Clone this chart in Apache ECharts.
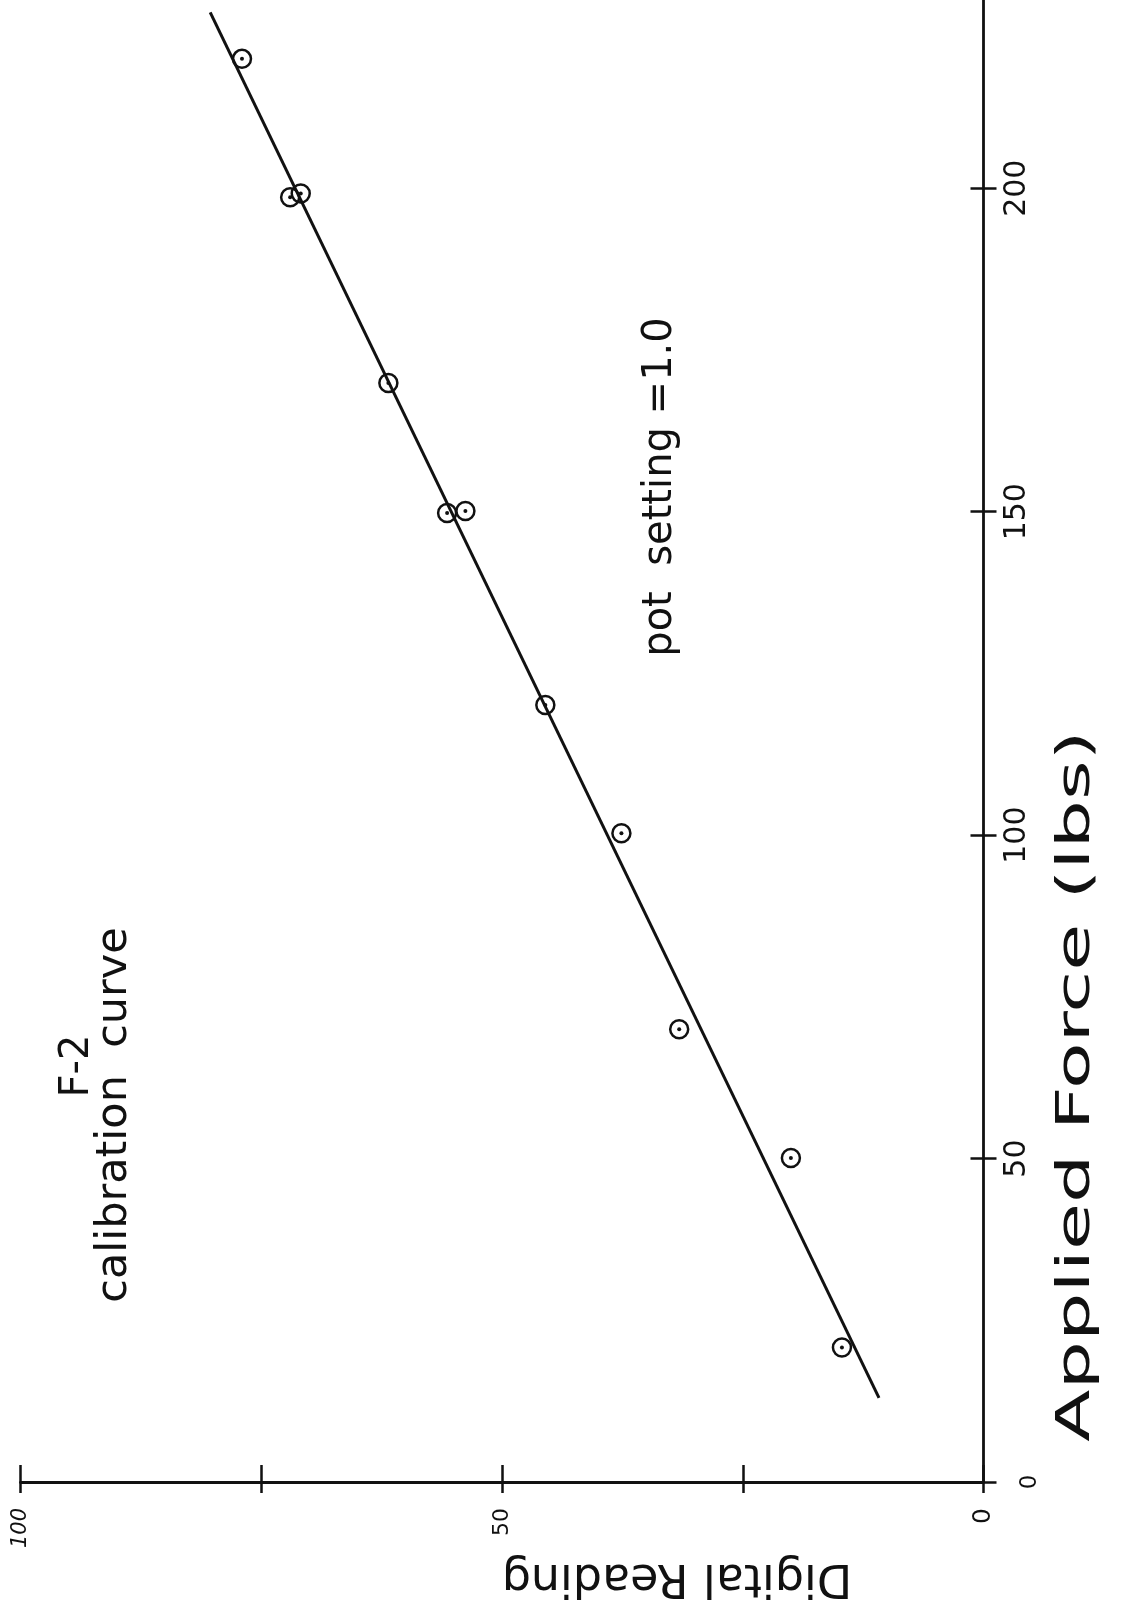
<!DOCTYPE html>
<html>
<head>
<meta charset="utf-8">
<title>F-2 calibration curve</title>
<script src="https://cdn.jsdelivr.net/npm/echarts@6/dist/echarts.min.js"></script>
<style>
  html, body { margin: 0; padding: 0; background: #ffffff; }
  #chart { width: 1127px; height: 1606px; }
</style>
</head>
<body>
<div id="chart"></div>
<script>
// Applied force (lbs) for each calibration point
const appliedForce = [20.8, 50.1, 70.0, 100.3, 120.1, 149.8, 150.1, 169.9, 198.6, 199.2, 220.0];
// Digital reading recorded at each load
const digitalReading = [14.7, 20.0, 31.6, 37.6, 45.5, 55.7, 53.8, 61.8, 72.0, 70.9, 77.0];
// End points of the fitted calibration line
const fitForce = [13.0, 227.2];
const fitReading = [10.85, 80.3];
// Tick positions and labelled ticks
const forceTicks = [0, 50, 100, 150, 200];
const readingTickLabels = [0, 50, 100];

const INK = '#111111';
const FONT = '"DejaVu Sans", "Liberation Sans", sans-serif';

const points = appliedForce.map((f, i) => [digitalReading[i], f]);
const fitLine = fitForce.map((f, i) => [fitReading[i], f]);

const chart = echarts.init(document.getElementById('chart'), null, { renderer: 'canvas' });

const readingAxisBase = {
  type: 'value',
  min: 0,
  max: 100,
  interval: 25,
  inverse: true,
  position: 'bottom',
  gridIndex: 0,
  splitLine: { show: false }
};
// force axis runs past 200 up to the top edge of the sheet
const forceAxisBase = {
  type: 'value',
  min: 0,
  max: 229.1,
  interval: 50,
  position: 'right',
  gridIndex: 0,
  splitLine: { show: false }
};

chart.setOption({
  animation: false,
  backgroundColor: '#ffffff',
  grid: { left: 20.5, right: 143.5, top: 0, bottom: 124, containLabel: false },
  xAxis: [
    Object.assign({}, readingAxisBase, {
      axisLine: { show: true, lineStyle: { color: INK, width: 2.8 } },
      axisTick: { show: true, inside: false, length: 11, lineStyle: { color: INK, width: 2.5 } },
      axisLabel: {
        show: true,
        rotate: 90,
        margin: 26,
        color: INK,
        fontFamily: FONT,
        formatter: function (v) {
          if (readingTickLabels.indexOf(v) < 0) return '';
          if (v === 0) return '{z|0}';
          if (v === 100) return '{h|100}';
          return '{f|' + v + '}';
        },
        rich: {
          z: { fontSize: 25, fontFamily: FONT, color: INK },
          f: { fontSize: 22, fontFamily: FONT, color: INK },
          h: { fontSize: 21, fontFamily: FONT, color: INK, fontStyle: 'italic' }
        }
      }
    }),
    Object.assign({}, readingAxisBase, {
      axisLine: { show: false },
      axisTick: { show: true, inside: true, length: 17, lineStyle: { color: INK, width: 2.5 } },
      axisLabel: { show: false }
    })
  ],
  yAxis: [
    Object.assign({}, forceAxisBase, {
      axisLine: { show: true, lineStyle: { color: INK, width: 2.8 } },
      axisTick: { show: true, inside: false, length: 13, customValues: forceTicks, lineStyle: { color: INK, width: 2.5 } },
      axisLabel: {
        show: true,
        rotate: 90,
        margin: 19,
        color: INK,
        fontFamily: FONT,
        customValues: forceTicks,
        formatter: function (v) {
          if (forceTicks.indexOf(v) < 0) return '';
          return v === 0 ? '{z|0}' : '{n|' + v + '}';
        },
        rich: {
          z: { fontSize: 23, fontFamily: FONT, color: INK, padding: [16, 0, 0, 0] },
          n: { fontSize: 30, fontFamily: FONT, color: INK }
        }
      }
    }),
    Object.assign({}, forceAxisBase, {
      axisLine: { show: false },
      axisTick: { show: true, inside: true, length: 13, customValues: forceTicks, lineStyle: { color: INK, width: 2.5 } },
      axisLabel: { show: false }
    })
  ],
  graphic: [
    {
      type: 'text', x: 78, y: 1066, rotation: Math.PI / 2,
      style: { text: 'F-2', font: '40px ' + FONT, fill: INK,
        align: 'center', verticalAlign: 'middle', textAlign: 'center', textVerticalAlign: 'middle' }
    },
    {
      type: 'text', x: 115, y: 1115, rotation: Math.PI / 2,
      style: { text: 'calibration  curve', font: '43px ' + FONT, fill: INK,
        align: 'center', verticalAlign: 'middle', textAlign: 'center', textVerticalAlign: 'middle' }
    },
    {
      type: 'text', x: 661, y: 487, rotation: Math.PI / 2,
      style: { text: 'pot  setting =1.0', font: '40px ' + FONT, fill: INK,
        align: 'center', verticalAlign: 'middle', textAlign: 'center', textVerticalAlign: 'middle' }
    },
    {
      type: 'text', x: 1077, y: 1086, rotation: Math.PI / 2, scaleX: 1.66,
      style: { text: 'Applied Force (lbs)', font: '46px ' + FONT, fill: INK,
        align: 'center', verticalAlign: 'middle', textAlign: 'center', textVerticalAlign: 'middle' }
    },
    {
      type: 'text', x: 677, y: 1577, rotation: Math.PI,
      style: { text: 'Digital Reading', font: '46px ' + FONT, fill: INK,
        align: 'center', verticalAlign: 'middle', textAlign: 'center', textVerticalAlign: 'middle' }
    }
  ],
  series: [
    {
      name: 'fit',
      type: 'line',
      xAxisIndex: 0,
      yAxisIndex: 0,
      data: fitLine,
      symbol: 'none',
      silent: true,
      lineStyle: { color: INK, width: 3 },
      z: 2
    },
    {
      name: 'readings',
      type: 'scatter',
      xAxisIndex: 0,
      yAxisIndex: 0,
      data: points,
      symbol: 'circle',
      symbolSize: 18,
      itemStyle: { color: 'rgba(0,0,0,0)', borderColor: INK, borderWidth: 2.5, opacity: 1 },
      z: 3
    },
    {
      name: 'centres',
      type: 'scatter',
      xAxisIndex: 0,
      yAxisIndex: 0,
      data: points,
      symbol: 'circle',
      symbolSize: 4,
      itemStyle: { color: INK, opacity: 1 },
      z: 4
    }
  ]
});
</script>
</body>
</html>
